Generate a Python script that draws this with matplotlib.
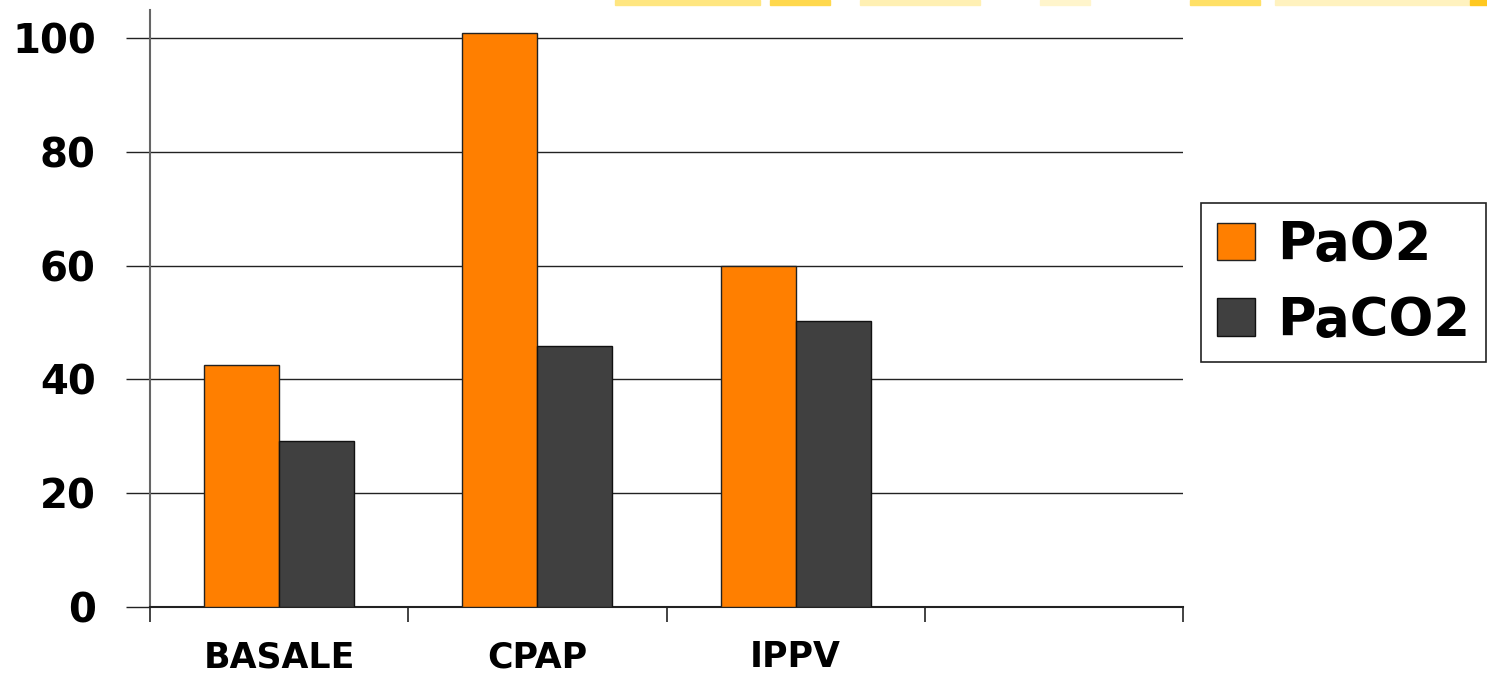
import matplotlib.pyplot as plt
from matplotlib.patches import Rectangle
import numpy as np

# categories (the fourth slot is empty in the original chart)
categories = ['BASALE', 'CPAP', 'IPPV', '']
pao2 = [42.5, 100.9, 59.9, 0]
paco2 = [29.2, 45.9, 50.3, 0]
yticks = [0, 20, 40, 60, 80, 100]

W, H = 1487, 679
fig = plt.figure(figsize=(W / 100, H / 100), dpi=100)
ax = fig.add_axes([150 / W, 1 - 607 / H, (1183 - 150) / W, (607 - 10) / H])

x = np.arange(len(categories))
bw = 0.29
b1 = ax.bar(x[:3] - bw / 2, pao2[:3], bw, color='#FF7F00', edgecolor='#222222',
            linewidth=1, label='PaO2', zorder=3)
b2 = ax.bar(x[:3] + bw / 2, paco2[:3], bw, color='#404040', edgecolor='#111111',
            linewidth=1, label='PaCO2', zorder=3)

ax.set_xlim(-0.5, 3.5)
ax.set_ylim(0, 104.9)
ax.set_yticks(yticks)
ax.set_yticklabels([str(v) for v in yticks], fontsize=29, fontweight='heavy')
ax.yaxis.grid(True, color='#222222', linewidth=1, zorder=0)
ax.tick_params(axis='y', length=17, width=1, color='#222222', pad=22)

ax.set_xticks(x)
ax.set_xticklabels(categories, fontsize=25, fontweight='heavy')
ax.set_xticks(np.arange(-0.5, 4.0, 1.0), minor=True)
ax.tick_params(axis='x', which='major', length=0, pad=24)
ax.tick_params(axis='x', which='minor', length=11, width=1.2, color='#222222')

for s in ['top', 'right']:
    ax.spines[s].set_visible(False)
ax.spines['left'].set_color('#666666')
ax.spines['left'].set_linewidth(1.5)
ax.spines['bottom'].set_color('#222222')
ax.spines['bottom'].set_linewidth(1.5)

leg = fig.legend(handles=[b1, b2], loc='upper left',
                 bbox_to_anchor=(1201 / W, 1 - 203 / H), borderaxespad=0,
                 prop={'size': 38, 'weight': 'heavy'}, frameon=True,
                 fancybox=False, edgecolor='#222222', framealpha=1,
                 handlelength=0.72, handleheight=0.72, handletextpad=0.42,
                 labelspacing=0.45, borderpad=0.3)
leg.get_frame().set_linewidth(1.2)

# faint yellow smudges along the top edge (slide decoration)
for x0, x1, c in [(615, 760, '#FFE680'), (770, 830, '#FFD84D'),
                  (860, 980, '#FFF0B3'), (1040, 1090, '#FFF5CC'),
                  (1190, 1260, '#FFE066'), (1275, 1470, '#FFF2BF'),
                  (1470, 1487, '#FFC820')]:
    fig.patches.append(Rectangle((x0 / W, 1 - 5 / H), (x1 - x0) / W, 5 / H,
                                 transform=fig.transFigure, color=c, zorder=0))

fig.savefig('out.png', dpi=100)
